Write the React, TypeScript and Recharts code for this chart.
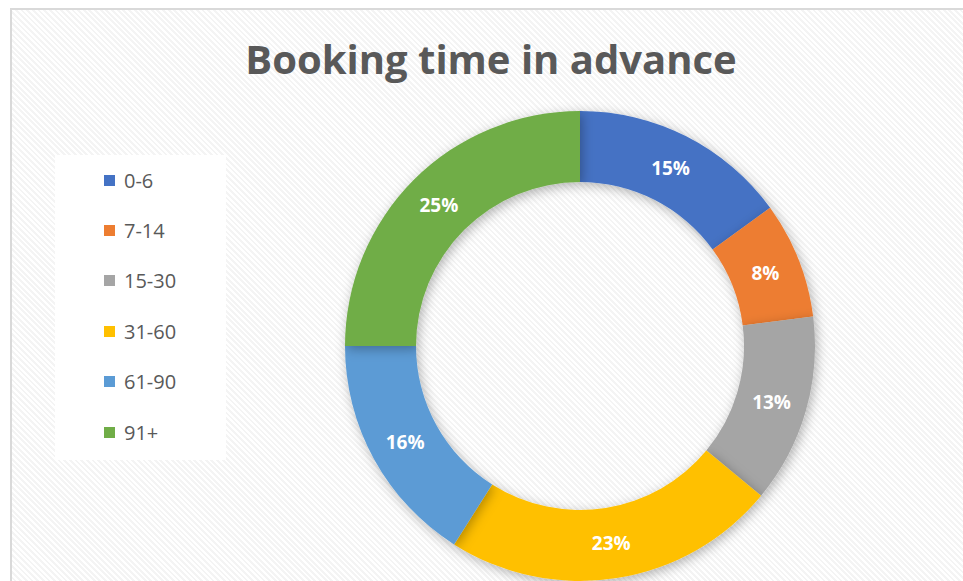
import { PieChart, Pie, Cell } from "recharts";

const categories = ["0-6", "7-14", "15-30", "31-60", "61-90", "91+"];
const shares = [15, 8, 13, 23, 16, 25];
const colors = ["#4472C4", "#ED7D31", "#A5A5A5", "#FFC000", "#5B9BD5", "#70AD47"];

const data = categories.map((name, i) => ({ name, value: shares[i] }));

const RAD = Math.PI / 180;

const renderLabel = ({ cx, cy, midAngle, innerRadius, outerRadius, value }: any) => {
  const r = (innerRadius + outerRadius) / 2;
  const x = cx + r * Math.cos(-midAngle * RAD);
  const y = cy + r * Math.sin(-midAngle * RAD);
  return (
    <text
      x={x}
      y={y}
      fill="#fff"
      textAnchor="middle"
      dominantBaseline="central"
      fontFamily="'Open Sans', sans-serif"
      fontWeight={700}
      fontSize={19}
    >
      {`${value}%`}
    </text>
  );
};

const LegendBox = () => (
  <div
    style={{
      position: "absolute",
      left: 55,
      top: 155,
      background: "#fff",
      width: 171,
      height: 305,
      fontFamily: "'Open Sans', sans-serif",
    }}
  >
    {categories.map((c, i) => (
      <div
        key={c}
        style={{
          display: "flex",
          alignItems: "center",
          height: 50.4,
          paddingLeft: 49,
          color: "#595959",
          fontSize: 20,
        }}
      >
        <span
          style={{
            width: 11,
            height: 11,
            background: colors[i],
            marginRight: 9,
            display: "inline-block",
          }}
        />
        {c}
      </div>
    ))}
  </div>
);

export default function App() {
  return (
    <div
      style={{
        position: "fixed",
        left: 0,
        top: 0,
        width: 963,
        height: 581,
        background: "#fff",
        overflow: "hidden",
      }}
    >
      <div
        style={{
          position: "absolute",
          left: 10,
          top: 8,
          width: 970,
          height: 600,
          border: "2px solid #d9d9d9",
          background:
            "repeating-linear-gradient(45deg, #ffffff 0px, #ffffff 2px, #f4f4f4 2px, #f4f4f4 4px)",
        }}
      />
      <div
        style={{
          position: "absolute",
          left: 0,
          top: 30,
          width: 982,
          textAlign: "center",
          fontFamily: "'Open Sans', sans-serif",
          fontWeight: 700,
          fontSize: 40,
          color: "#595959",
          lineHeight: "58px",
        }}
      >
        Booking time in advance
      </div>
      <LegendBox />
      <div style={{ position: "absolute", left: 0, top: 0 }}>
        <PieChart width={963} height={581} margin={{ top: 0, right: 0, bottom: 0, left: 0 }}>
          <defs>
            <filter id="ringShadow" x="-20%" y="-20%" width="140%" height="140%">
              <feDropShadow dx="2" dy="3" stdDeviation="6" floodColor="#000" floodOpacity="0.3" />
            </filter>
          </defs>
          <Pie
            data={data}
            dataKey="value"
            nameKey="name"
            cx={580}
            cy={346}
            innerRadius={164}
            outerRadius={235}
            startAngle={90}
            endAngle={-270}
            stroke="none"
            label={renderLabel}
            labelLine={false}
            isAnimationActive={false}
            style={{ filter: "url(#ringShadow)" }}
          >
            {data.map((d, i) => (
              <Cell key={d.name} fill={colors[i]} />
            ))}
          </Pie>
        </PieChart>
      </div>
    </div>
  );
}
